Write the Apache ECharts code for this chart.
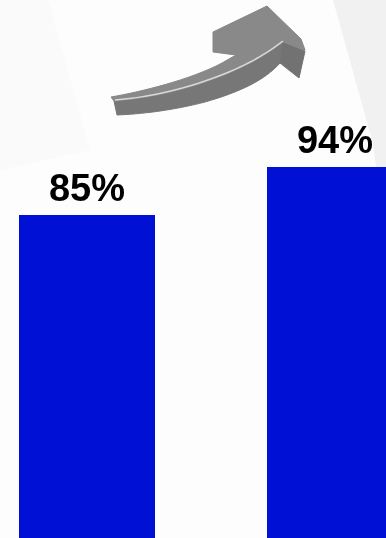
<!DOCTYPE html>
<html>
<head>
<meta charset="utf-8">
<script src="https://cdn.jsdelivr.net/npm/echarts@6/dist/echarts.min.js"></script>
<style>
html,body{margin:0;padding:0;background:#fff;}
#c{width:386px;height:538px;}
</style>
</head>
<body>
<div id="c"></div>
<script>
var categories = ['Before', 'After'];
var values = [85, 94];
var labels = ['85%', '94%'];

var chart = echarts.init(document.getElementById('c'), null, {renderer: 'canvas'});

// flatten a list of segments: ['L',x,y] or ['C',x1,y1,x2,y2,x,y]
function flatten(start, segs) {
  var pts = [start.slice()];
  var cur = start.slice();
  segs.forEach(function (s) {
    if (s[0] === 'L') {
      cur = [s[1], s[2]];
      pts.push(cur);
    } else {
      var p0 = cur, p1 = [s[1], s[2]], p2 = [s[3], s[4]], p3 = [s[5], s[6]];
      for (var i = 1; i <= 16; i++) {
        var t = i / 16, u = 1 - t;
        pts.push([
          u*u*u*p0[0] + 3*u*u*t*p1[0] + 3*u*t*t*p2[0] + t*t*t*p3[0],
          u*u*u*p0[1] + 3*u*u*t*p1[1] + 3*u*t*t*p2[1] + t*t*t*p3[1]
        ]);
      }
      cur = p3;
    }
  });
  return pts;
}

var arrowTop = flatten([111,97], [
  ['C',140,92,190,80,222,63], ['L',236,55], ['L',213,52], ['L',213,32], ['L',267,6],
  ['L',301,39], ['L',305,50], ['L',283,42],
  ['C',262,58,240,70,205,82], ['C',170,94,140,99,114,101]
]);
var arrowSide = flatten([114,101], [
  ['C',140,99,170,94,205,82], ['C',240,70,262,58,283,42], ['L',280,63],
  ['C',265,80,240,92,205,102], ['C',170,111,140,114,117,115]
]);
var arrowBarb = [[283,42],[305,51],[299,78],[280,63]];
var arrowHighlight = flatten([115,100], [
  ['C',140,98,170,93,205,81], ['C',240,69,262,57,283,41]
]);

var barData = values.map(function (v, i) { return {name: categories[i], value: [i, v]}; });

chart.setOption({
  backgroundColor: '#fdfdfd',
  animation: false,
  grid: {left: 0, right: 0, top: 0, bottom: 0, containLabel: false},
  xAxis: {type: 'value', min: -0.3508, max: 1.2056, show: false, splitLine: {show: false}},
  yAxis: {type: 'value', min: 24.44, max: 125.31, show: false, splitLine: {show: false}},
  series: [{
    type: 'bar',
    data: barData,
    barWidth: 136,
    itemStyle: {color: '#0010D4'},
    label: {
      show: true,
      position: 'top',
      distance: 5,
      formatter: function (p) { return labels[p.dataIndex]; },
      fontSize: 38,
      fontWeight: 'bold',
      fontFamily: 'Liberation Sans, Arial, sans-serif',
      color: '#000'
    }
  }],
  graphic: [
    {type: 'polygon', z: -10, silent: true,
      shape: {points: [[333,0],[386,0],[386,230],[372,140]]},
      style: {fill: '#f1f1f1'}},
    {type: 'polygon', z: -10, silent: true,
      shape: {points: [[0,0],[48,0],[90,150],[0,170]]},
      style: {fill: '#fafafa'}},
    {type: 'polygon', z: 100, silent: true,
      shape: {points: arrowSide},
      style: {fill: '#777777', stroke: '#777777', lineWidth: 1}},
    {type: 'polygon', z: 100, silent: true,
      shape: {points: arrowBarb},
      style: {fill: '#727272', stroke: '#727272', lineWidth: 1}},
    {type: 'polygon', z: 101, silent: true,
      shape: {points: arrowTop},
      style: {fill: '#898989', stroke: '#878787', lineWidth: 1}},
    {type: 'polyline', z: 102, silent: true,
      shape: {points: arrowHighlight},
      style: {stroke: '#d8d8d8', lineWidth: 1.5}}
  ]
});
</script>
</body>
</html>
